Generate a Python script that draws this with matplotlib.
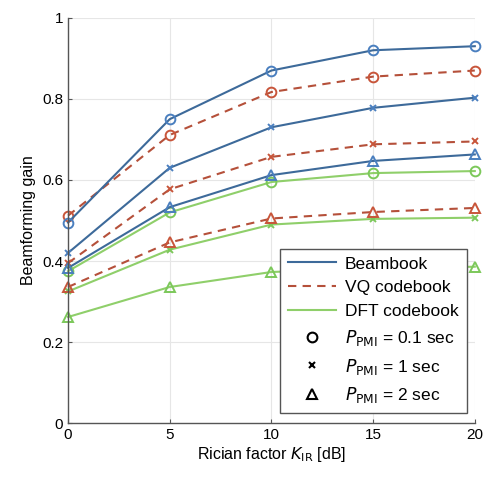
import matplotlib
matplotlib.use("Agg")
import matplotlib.pyplot as plt
from matplotlib.lines import Line2D

plt.rcParams['font.family'] = ['Liberation Sans', 'DejaVu Sans']

k_db = [0, 5, 10, 15, 20]

beam_01 = [0.495, 0.750, 0.870, 0.920, 0.930]
beam_1 = [0.420, 0.630, 0.730, 0.778, 0.803]
beam_2 = [0.383, 0.533, 0.612, 0.647, 0.663]

vq_01 = [0.512, 0.711, 0.817, 0.855, 0.870]
vq_1 = [0.395, 0.577, 0.657, 0.688, 0.695]
vq_2 = [0.336, 0.446, 0.505, 0.521, 0.531]

dft_01 = [0.375, 0.520, 0.595, 0.617, 0.622]
dft_1 = [0.325, 0.428, 0.490, 0.504, 0.507]
dft_2 = [0.262, 0.336, 0.373, 0.382, 0.386]

xticks = [0, 5, 10, 15, 20]
yticks = [0, 0.2, 0.4, 0.6, 0.8, 1.0]
ytick_labels = ['0', '0.2', '0.4', '0.6', '0.8', '1']

c_beam = '#3d6a9a'
c_vq = '#b5503a'
c_dft = '#8fcf6a'
c_beam_m = '#4a7fbf'
c_vq_m = '#c8553a'
c_dft_m = '#7cc85a'

fig = plt.figure(figsize=(4.86, 4.82), dpi=100)
ax = fig.add_axes([0.140, 0.122, 0.837, 0.841])

series = [
    (dft_01, c_dft, '-', 'o', c_dft_m, 7),
    (dft_1, c_dft, '-', 'x', c_dft_m, 5),
    (dft_2, c_dft, '-', '^', c_dft_m, 7),
    (vq_01, c_vq, (0, (4, 3)), 'o', c_vq_m, 7),
    (vq_1, c_vq, (0, (4, 3)), 'x', c_vq_m, 5),
    (vq_2, c_vq, (0, (4, 3)), '^', c_vq_m, 7),
    (beam_01, c_beam, '-', 'o', c_beam_m, 7),
    (beam_1, c_beam, '-', 'x', c_beam_m, 5),
    (beam_2, c_beam, '-', '^', c_beam_m, 7),
]
for vals, col, ls, mk, mc, ms in series:
    ax.plot(k_db, vals, color=col, linestyle=ls, linewidth=1.5,
            marker=mk, markersize=ms, markerfacecolor='none',
            markeredgecolor=mc, markeredgewidth=1.4, clip_on=False)

ax.set_xlim(0, 20)
ax.set_ylim(0, 1)
ax.set_xticks(xticks)
ax.set_yticks(yticks)
ax.set_yticklabels(ytick_labels)
ax.grid(True, color='#e6e6e6', linewidth=0.8)
ax.set_axisbelow(True)
for s in ['top', 'right']:
    ax.spines[s].set_visible(False)
for s in ['left', 'bottom']:
    ax.spines[s].set_color('#555555')
    ax.spines[s].set_linewidth(1.0)
ax.tick_params(labelsize=11, length=3, color='#555555', direction='in')

ax.set_xlabel('Rician factor $K_{\\mathrm{IR}}$ [dB]', fontsize=11.5, labelpad=2)
ax.set_ylabel('Beamforming gain', fontsize=11.5, labelpad=4)

handles = [
    Line2D([], [], color=c_beam, linestyle='-', linewidth=1.5),
    Line2D([], [], color=c_vq, linestyle=(0, (4, 3)), linewidth=1.5),
    Line2D([], [], color=c_dft, linestyle='-', linewidth=1.5),
    Line2D([], [], color='black', linestyle='none', marker='o', markerfacecolor='none', markersize=7, markeredgewidth=1.5),
    Line2D([], [], color='black', linestyle='none', marker='x', markersize=5, markeredgewidth=1.5),
    Line2D([], [], color='black', linestyle='none', marker='^', markerfacecolor='none', markersize=7, markeredgewidth=1.5),
]
labels = ['Beambook', 'VQ codebook', 'DFT codebook',
          '$P_{\\mathrm{PMI}}$ = 0.1 sec',
          '$P_{\\mathrm{PMI}}$ = 1 sec',
          '$P_{\\mathrm{PMI}}$ = 2 sec']
leg = ax.legend(handles, labels, loc='lower right', bbox_to_anchor=(0.98, 0.025),
                fontsize=12.5, frameon=True, fancybox=False, edgecolor='#555555',
                handlelength=2.8, handletextpad=0.5, borderpad=0.45, labelspacing=0.5,
                borderaxespad=0, framealpha=1)
leg.get_frame().set_linewidth(1.0)

fig.savefig('out.png', dpi=100)
